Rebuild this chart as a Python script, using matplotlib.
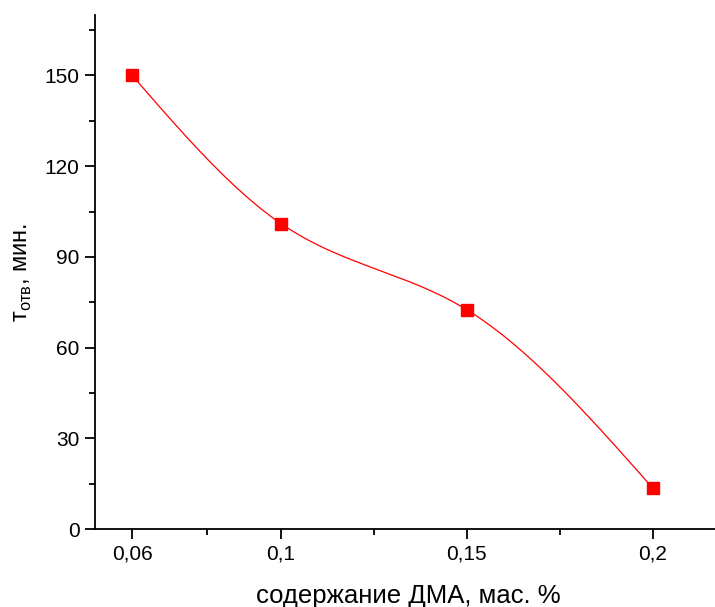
import numpy as np
import matplotlib
matplotlib.use('Agg')
import matplotlib.pyplot as plt

plt.rcParams['font.family'] = ['Liberation Sans', 'DejaVu Sans']
plt.rcParams['mathtext.fontset'] = 'custom'
plt.rcParams['mathtext.rm'] = 'Liberation Sans'

# data
dma = [0.06, 0.1, 0.15, 0.2]
time_min = [150, 101, 72.5, 13.5]
x_ticks = [0.06, 0.1, 0.15, 0.2]
x_tick_labels = ['0,06', '0,1', '0,15', '0,2']
x_minor = [0.08, 0.125, 0.175]
y_ticks = [0, 30, 60, 90, 120, 150]
y_minor = [15, 45, 75, 105, 135, 165]


def natural_spline(x, y, n=200):
    # natural cubic spline through the points, for the smooth connecting line
    x = np.asarray(x, float)
    y = np.asarray(y, float)
    k = len(x)
    h = np.diff(x)
    A = np.zeros((k, k))
    b = np.zeros(k)
    A[0, 0] = A[-1, -1] = 1
    for i in range(1, k - 1):
        A[i, i - 1] = h[i - 1]
        A[i, i] = 2 * (h[i - 1] + h[i])
        A[i, i + 1] = h[i]
        b[i] = 3 * ((y[i + 1] - y[i]) / h[i] - (y[i] - y[i - 1]) / h[i - 1])
    c = np.linalg.solve(A, b)
    xs = np.linspace(x[0], x[-1], n)
    idx = np.clip(np.searchsorted(x, xs) - 1, 0, k - 2)
    dx = xs - x[idx]
    bb = (y[idx + 1] - y[idx]) / h[idx] - h[idx] * (2 * c[idx] + c[idx + 1]) / 3
    dd = (c[idx + 1] - c[idx]) / (3 * h[idx])
    ys = y[idx] + bb * dx + c[idx] * dx ** 2 + dd * dx ** 3
    return xs, ys


fig = plt.figure(figsize=(7.15, 6.07), dpi=100)
ax = fig.add_axes([0.1329, 0.1285, 0.867, 0.8468])

xs, ys = natural_spline(dma, time_min)
ax.plot(xs, ys, color='red', lw=0.9)
ax.plot(dma, time_min, 's', color='red', ms=8, mec='red')

ax.set_xlim(0.05, 0.2167)
ax.set_ylim(0, 170)
ax.set_xticks(x_ticks)
ax.set_xticklabels(x_tick_labels)
ax.set_xticks(x_minor, minor=True)
ax.set_yticks(y_ticks)
ax.set_yticks(y_minor, minor=True)

for s in ['top', 'right']:
    ax.spines[s].set_visible(False)
for s in ['left', 'bottom']:
    ax.spines[s].set_linewidth(1.3)
ax.tick_params(which='major', direction='out', length=7, width=1.3, labelsize=15, pad=4)
ax.tick_params(which='minor', direction='out', length=4, width=1.3)

fig.text(408 / 715, 1 - 603 / 607, 'содержание ДМА, мас. %', fontsize=18.5,
         ha='center', va='baseline')
fig.text(23 / 715, 1 - 272 / 607, r'т$_{\mathregular{отв}}$, мин.', fontsize=17,
         rotation=90, ha='center', va='center')

fig.savefig('out.png', dpi=100)
